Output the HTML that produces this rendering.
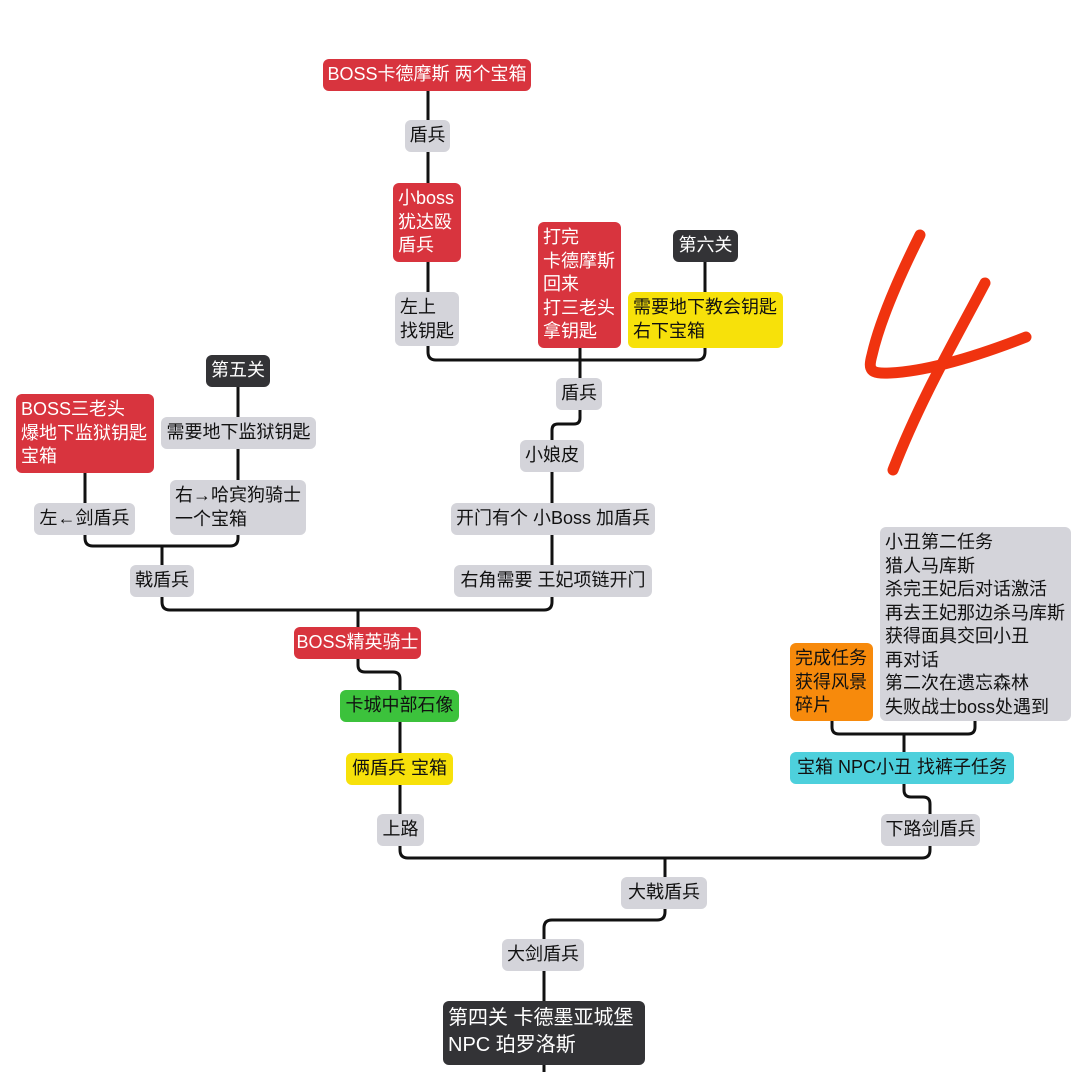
<!DOCTYPE html>
<html><head><meta charset="utf-8"><style>
html,body{margin:0;padding:0;background:#fff;}
body{width:1080px;height:1072px;position:relative;overflow:hidden;font-family:"Liberation Sans","Noto Sans CJK SC",sans-serif;}
.b{position:absolute;box-sizing:border-box;border-radius:6px;font-size:18px;line-height:23.5px;padding:4px 5px;white-space:nowrap;color:#111;}
.g{background:#d4d4da;}
.r{background:#d8343e;color:#fff;}
.d{background:#333336;color:#fff;}
.y{background:#f7e10a;}
.gr{background:#3cc23c;}
.o{background:#f78a0c;}
.c{background:#4dd0dc;}
.cen{text-align:center;padding-left:0;padding-right:0;}
</style></head><body>
<svg width="1080" height="1072" style="position:absolute;left:0;top:0" fill="none" stroke="#111" stroke-width="3" stroke-linejoin="round">
<path d="M428 91V120M428 152V183M428 262V292"/>
<path d="M428 346V352Q428 360 436 360H697Q705 360 705 352V348"/>
<path d="M705 262V292M580 348V378"/>
<path d="M580 410V418Q580 424 574 424H558Q552 424 552 430V440"/>
<path d="M552 472V503M552 535V565"/>
<path d="M162 597V602Q162 610 170 610H544Q552 610 552 602V597"/>
<path d="M358 610V627"/>
<path d="M238 387V417M238 449V480M85 473V503"/>
<path d="M85 535V538Q85 546 93 546H230Q238 546 238 538V535M162 546V565"/>
<path d="M358 659V665Q358 672 365 672H393Q400 672 400 679V690"/>
<path d="M400 722V753M400 785V814"/>
<path d="M400 846V850Q400 858 408 858H922Q930 858 930 850V846M665 858V877"/>
<path d="M665 909V912Q665 920 657 920H552Q544 920 544 928V939"/>
<path d="M544 971V1001M544 1065V1072"/>
<path d="M904 784V790Q904 797 911 797H923Q930 797 930 804V814"/>
<path d="M832 721V727Q832 734 839 734H968Q975 734 975 727V721M904 734V752"/>
<path d="M920 235C900 275 880 320 872 355C868 370 870 374 890 373C930 371 980 355 1026 337" stroke="#f0330f" stroke-width="11" stroke-linecap="round"/>
<path d="M985 283C955 340 920 400 893 470" stroke="#f0330f" stroke-width="11" stroke-linecap="round"/>
</svg>
<div class="b r cen" style="left:323px;top:59px;width:208px;height:32px">BOSS卡德摩斯 两个宝箱</div>
<div class="b g cen" style="left:405px;top:120px;width:45px;height:32px">盾兵</div>
<div class="b r" style="left:393px;top:183px;width:68px;height:79px">小boss<br>犹达殴<br>盾兵</div>
<div class="b g" style="left:395px;top:292px;width:64px;height:54px">左上<br>找钥匙</div>
<div class="b r" style="left:538px;top:222px;width:83px;height:126px">打完<br>卡德摩斯<br>回来<br>打三老头<br>拿钥匙</div>
<div class="b d cen" style="left:673px;top:230px;width:65px;height:32px">第六关</div>
<div class="b y" style="left:628px;top:292px;width:155px;height:56px">需要地下教会钥匙<br>右下宝箱</div>
<div class="b g cen" style="left:556px;top:378px;width:46px;height:32px">盾兵</div>
<div class="b g cen" style="left:520px;top:440px;width:64px;height:32px">小娘皮</div>
<div class="b g cen" style="left:451px;top:503px;width:204px;height:32px">开门有个 小Boss 加盾兵</div>
<div class="b g cen" style="left:454px;top:565px;width:198px;height:32px">右角需要 王妃项链开门</div>
<div class="b d cen" style="left:206px;top:355px;width:64px;height:32px">第五关</div>
<div class="b r" style="left:16px;top:394px;width:138px;height:79px">BOSS三老头<br>爆地下监狱钥匙<br>宝箱</div>
<div class="b g cen" style="left:161px;top:417px;width:155px;height:32px">需要地下监狱钥匙</div>
<div class="b g cen" style="left:34px;top:503px;width:101px;height:32px">左←剑盾兵</div>
<div class="b g" style="left:170px;top:480px;width:136px;height:55px">右→哈宾狗骑士<br>一个宝箱</div>
<div class="b g cen" style="left:130px;top:565px;width:64px;height:32px">戟盾兵</div>
<div class="b r cen" style="left:294px;top:627px;width:127px;height:32px">BOSS精英骑士</div>
<div class="b gr cen" style="left:340px;top:690px;width:119px;height:32px">卡城中部石像</div>
<div class="b y cen" style="left:346px;top:753px;width:107px;height:32px">俩盾兵 宝箱</div>
<div class="b g cen" style="left:377px;top:814px;width:47px;height:32px">上路</div>
<div class="b g" style="left:880px;top:527px;width:191px;height:194px">小丑第二任务<br>猎人马库斯<br>杀完王妃后对话激活<br>再去王妃那边杀马库斯<br>获得面具交回小丑<br>再对话<br>第二次在遗忘森林<br>失败战士boss处遇到</div>
<div class="b o" style="left:790px;top:643px;width:83px;height:78px">完成任务<br>获得风景<br>碎片</div>
<div class="b c cen" style="left:790px;top:752px;width:224px;height:32px">宝箱 NPC小丑 找裤子任务</div>
<div class="b g cen" style="left:881px;top:814px;width:99px;height:32px">下路剑盾兵</div>
<div class="b g cen" style="left:621px;top:877px;width:86px;height:32px">大戟盾兵</div>
<div class="b g cen" style="left:502px;top:939px;width:82px;height:32px">大剑盾兵</div>
<div class="b d" style="left:443px;top:1001px;width:202px;height:64px;font-size:20px;line-height:27px;padding:4px 5px">第四关 卡德墨亚城堡<br>NPC 珀罗洛斯</div>
</body></html>
